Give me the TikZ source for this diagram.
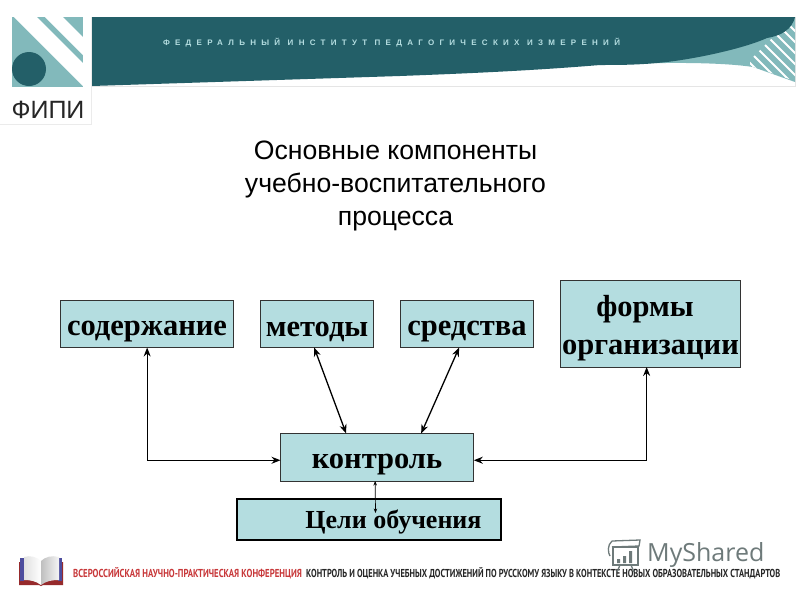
\documentclass[tikz,border=0pt]{standalone}
\usepackage{fontspec}
\setmainfont{Liberation Serif}
\newfontfamily\arialf{Liberation Sans}
\newfontfamily\openf{Open Sans}
\newfontfamily\ptf{PT Sans}
\usetikzlibrary{arrows.meta,calc}
\definecolor{boxfill}{HTML}{B4DDE0}
\definecolor{darkteal}{HTML}{235F68}
\definecolor{midteal}{HTML}{82B9BB}
\definecolor{confred}{HTML}{C8383A}
\definecolor{markgray}{HTML}{6E7A7A}
\tikzset{
  x=1pt,y=-1pt,
  compbox/.style={draw=black!80,line width=0.7pt,fill=boxfill,inner sep=0pt,outer sep=0pt,anchor=north west},
  boxlabel/.style={font=\fontsize{30.5}{38}\selectfont\bfseries,inner sep=0pt,align=center},
  link/.style={line width=1.3pt,{Stealth[length=9pt,width=7pt]}-{Stealth[length=9pt,width=7pt]}},
  thinlink/.style={line width=0.7pt,{Stealth[length=4.5pt,width=3.5pt]}-{Stealth[length=4.5pt,width=3.5pt]}},
  stripe/.style={draw=white,line width=2pt},
}
\begin{document}
\begin{tikzpicture}
\useasboundingbox (0,0) rectangle (800,600);
\fill[white] (0,0) rectangle (800,600);
% logo
\draw[black!8,line width=0.5pt] (91,17) -- (91,124) -- (0,124);
\fill[midteal] (12,17) rectangle (83,87);
\fill[white] (14,17) -- (37,17) -- (83,63) -- (83,86) -- cycle;
\fill[white] (45,17) -- (63,17) -- (83,37) -- (83,55) -- cycle;
\fill[darkteal] (29,69) circle[radius=17];
\node[font=\arialf\fontsize{25}{25}\selectfont,text=black!85,inner sep=0pt] (logotext) at (48,110) {ФИПИ};
% banner
\draw[black!10,line width=0.6pt] (92,86.5) -- (795,86.5) -- (795,17);
\begin{scope}
\clip (92,17) rectangle (795,86);
\fill[midteal] (600,65) .. controls (660,62) and (720,62) .. (753,67) -- (795,82) -- (795,17) -- (770,17) -- cycle;
\begin{scope}
\clip (750,66) -- (795,81) -- (795,17) -- (780,30) -- (750,60) -- cycle;
\foreach \d in {0,11,...,88} { \draw[stripe] (740+\d-44,20) -- (740+\d+44,108); }
\end{scope}
\fill[darkteal] (92,17) -- (795,17) .. controls (792,30) and (780,36) .. (767,38)
  .. controls (745,48) and (700,58) .. (667,62) .. controls (640,65) and (620,65) .. (600,65)
  .. controls (540,70) and (480,73) .. (400,76) -- (92,86) -- cycle;
\end{scope}
\node[font=\arialf\fontsize{8}{8}\selectfont\bfseries,text=boxfill,inner sep=0pt] (bannertext) at (391.5,43)
  {\addfontfeature{LetterSpace=66}ФЕДЕРАЛЬНЫЙ ИНСТИТУТ ПЕДАГОГИЧЕСКИХ ИЗМЕРЕНИЙ};
% title
\node[font=\arialf\fontsize{26.6}{33}\selectfont,align=center,inner sep=0pt] (title) at (395.5,186)
  {Основные компоненты\\учебно-воспитательного\\процесса};
% boxes
\node[compbox,minimum width=173.3pt,minimum height=47.5pt] (sod) at (60.5,300) {};
\node[boxlabel] (sodt) at (147,332) {содержание};
\node[compbox,minimum width=113.3pt,minimum height=47.5pt] (met) at (260.5,300) {};
\node[boxlabel] (mett) at (317,332) {методы};
\node[compbox,minimum width=133.3pt,minimum height=47.5pt] (sred) at (400.5,300) {};
\node[boxlabel] (sredt) at (467,332) {средства};
\node[compbox,minimum width=180.3pt,minimum height=86.5pt] (form) at (560.5,280.5) {};
\node[boxlabel] (formt) at (650.5,328.5) {формы\hbox to 11pt{}\\организации};
\node[compbox,minimum width=193.3pt,minimum height=47.5pt] (kon) at (280.5,433.5) {};
\node[boxlabel] (kont) at (377,465) {контроль};
\node[draw=black,line width=2pt,fill=boxfill,minimum width=264pt,minimum height=41pt,inner sep=0pt,outer sep=0pt,anchor=north west] (goal) at (237,499) {};
\node[font=\fontsize{26}{26}\selectfont\bfseries,inner sep=0pt] (goaltext) at (393.5,522) {Цели обучения};
% connectors
\coordinate (kw) at ([yshift=-3pt]kon.west);
\coordinate (ke) at ([yshift=-3pt]kon.east);
\coordinate (kg) at ($(goal.north west)+(138.5,14)$);
\draw[link] (sod.south) |- (kw);
\draw[link] ([xshift=-4pt]form.south) |- (ke);
\draw[link] ([xshift=-3pt]met.south) -- ([xshift=-31pt]kon.north);
\draw[link] ([xshift=-8pt]sred.south) -- ([xshift=44pt]kon.north);
\draw[thinlink] ([xshift=-2pt]kon.south) -- (kg);
% footer
\begin{scope}
\fill[confred!75!black] (19,585) -- (19,562) -- (63,562) -- (63,585) -- (43,585) -- (41,586) -- (39,585) -- cycle;
\fill[blue!45!black!70] (20,558) rectangle (24,581);
\fill[blue!45!black!70] (58,558) rectangle (62,581);
\shade[left color=black!12,right color=white] (24,557) .. controls (30,555) and (37,557) .. (41,561) -- (41,585) .. controls (36,581) and (30,580) .. (24,580) -- cycle;
\shade[left color=black!25,right color=black!4] (41,561) .. controls (45,557) and (52,555) .. (59,557) -- (59,580) .. controls (52,580) and (46,581) .. (41,585) -- cycle;
\end{scope}
\node[anchor=west,inner sep=0pt,text=confred,xscale=0.76,font=\ptf\fontsize{11.5}{11.5}\selectfont\bfseries] (conf1) at (73,573.5)
  {ВСЕРОССИЙСКАЯ НАУЧНО-ПРАКТИЧЕСКАЯ КОНФЕРЕНЦИЯ};
\node[anchor=west,inner sep=0pt,text=black!85,xscale=0.73,font=\ptf\fontsize{11.5}{11.5}\selectfont\bfseries] (conf2) at (306,573.5)
  {КОНТРОЛЬ И ОЦЕНКА УЧЕБНЫХ ДОСТИЖЕНИЙ ПО РУССКОМУ ЯЗЫКУ В КОНТЕКСТЕ НОВЫХ ОБРАЗОВАТЕЛЬНЫХ СТАНДАРТОВ};
% watermark
\begin{scope}[draw=markgray,line width=1.3pt]
\draw (612,541) -- (640,540) -- (639,546) -- (612,547);
\draw (612,541) .. controls (607,545) and (608,553) .. (610,556);
\draw (613,547) rectangle (638,565);
\draw (620,565) -- (617,572) (631,565) -- (634,572);
\fill[markgray] (617,559) rectangle (620,563) (623,556) rectangle (626,563) (629,551) rectangle (632,563);
\end{scope}
\node[anchor=west,inner sep=0pt,text=markgray,font=\openf\fontsize{25}{25}\selectfont] (mark) at (647,555) {MyShared};
\end{tikzpicture}
\end{document}
